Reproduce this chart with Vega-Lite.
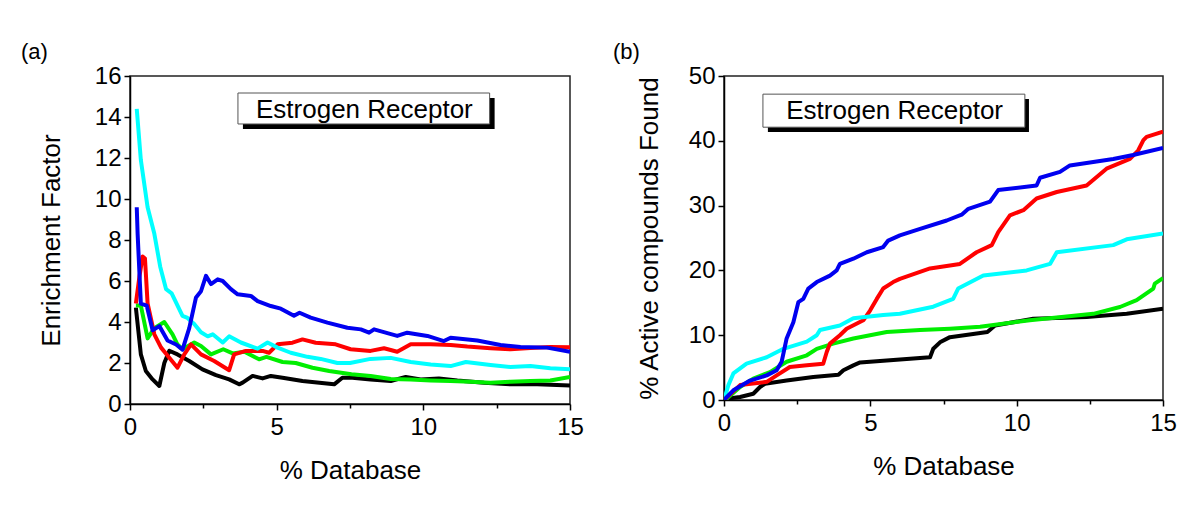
{
  "$schema": "https://vega.github.io/schema/vega-lite/v6.json",
  "padding": {"left": 20, "top": 40, "right": 5, "bottom": 5},
  "background": "white",
  "config": {
    "font": "Liberation Sans",
    "view": {"stroke": "#222222", "strokeWidth": 1.5},
    "axis": {
      "grid": false,
      "domainColor": "#000000",
      "domainWidth": 1.5,
      "tickColor": "#000000",
      "tickWidth": 1.5,
      "labelFont": "Liberation Sans",
      "labelFontSize": 24,
      "labelColor": "#000000",
      "titleFont": "Liberation Sans",
      "titleFontSize": 26,
      "titleFontWeight": "normal",
      "titleColor": "#000000",
      "labelFlush": false,
      "labelOverlap": false
    },
    "title": {"font": "Liberation Sans", "fontSize": 22, "fontWeight": "normal", "color": "#000000", "anchor": "start", "frame": "group"}
  },
  "datasets": {
    "ef": [
      {"pct": 0.2, "value": 4.7, "series": "black"},
      {"pct": 0.37, "value": 2.42, "series": "black"},
      {"pct": 0.54, "value": 1.61, "series": "black"},
      {"pct": 0.77, "value": 1.2, "series": "black"},
      {"pct": 1.0, "value": 0.88, "series": "black"},
      {"pct": 1.17, "value": 2.0, "series": "black"},
      {"pct": 1.34, "value": 2.6, "series": "black"},
      {"pct": 1.62, "value": 2.42, "series": "black"},
      {"pct": 2.02, "value": 2.1, "series": "black"},
      {"pct": 2.47, "value": 1.69, "series": "black"},
      {"pct": 2.93, "value": 1.41, "series": "black"},
      {"pct": 3.38, "value": 1.2, "series": "black"},
      {"pct": 3.72, "value": 0.96, "series": "black"},
      {"pct": 3.84, "value": 1.04, "series": "black"},
      {"pct": 4.18, "value": 1.37, "series": "black"},
      {"pct": 4.52, "value": 1.25, "series": "black"},
      {"pct": 4.8, "value": 1.37, "series": "black"},
      {"pct": 5.2, "value": 1.28, "series": "black"},
      {"pct": 5.88, "value": 1.12, "series": "black"},
      {"pct": 6.79, "value": 0.99, "series": "black"},
      {"pct": 6.96, "value": 0.96, "series": "black"},
      {"pct": 7.24, "value": 1.28, "series": "black"},
      {"pct": 7.58, "value": 1.28, "series": "black"},
      {"pct": 8.2, "value": 1.2, "series": "black"},
      {"pct": 8.89, "value": 1.12, "series": "black"},
      {"pct": 9.4, "value": 1.32, "series": "black"},
      {"pct": 9.91, "value": 1.2, "series": "black"},
      {"pct": 10.53, "value": 1.25, "series": "black"},
      {"pct": 11.16, "value": 1.15, "series": "black"},
      {"pct": 12.07, "value": 1.04, "series": "black"},
      {"pct": 12.97, "value": 0.96, "series": "black"},
      {"pct": 13.88, "value": 0.96, "series": "black"},
      {"pct": 15.0, "value": 0.9, "series": "black"},

      {"pct": 0.2, "value": 4.8, "series": "green"},
      {"pct": 0.37, "value": 4.8, "series": "green"},
      {"pct": 0.6, "value": 3.2, "series": "green"},
      {"pct": 0.83, "value": 3.7, "series": "green"},
      {"pct": 1.17, "value": 4.0, "series": "green"},
      {"pct": 1.45, "value": 3.4, "series": "green"},
      {"pct": 1.62, "value": 2.9, "series": "green"},
      {"pct": 1.79, "value": 2.67, "series": "green"},
      {"pct": 2.19, "value": 3.0, "series": "green"},
      {"pct": 2.42, "value": 2.83, "series": "green"},
      {"pct": 2.76, "value": 2.42, "series": "green"},
      {"pct": 3.18, "value": 2.67, "series": "green"},
      {"pct": 3.5, "value": 2.47, "series": "green"},
      {"pct": 3.9, "value": 2.55, "series": "green"},
      {"pct": 4.4, "value": 2.18, "series": "green"},
      {"pct": 4.65, "value": 2.3, "series": "green"},
      {"pct": 5.2, "value": 2.05, "series": "green"},
      {"pct": 5.65, "value": 2.0, "series": "green"},
      {"pct": 6.22, "value": 1.77, "series": "green"},
      {"pct": 6.79, "value": 1.61, "series": "green"},
      {"pct": 7.55, "value": 1.45, "series": "green"},
      {"pct": 8.2, "value": 1.37, "series": "green"},
      {"pct": 8.89, "value": 1.22, "series": "green"},
      {"pct": 9.57, "value": 1.2, "series": "green"},
      {"pct": 10.25, "value": 1.15, "series": "green"},
      {"pct": 10.93, "value": 1.12, "series": "green"},
      {"pct": 11.61, "value": 1.09, "series": "green"},
      {"pct": 12.29, "value": 1.04, "series": "green"},
      {"pct": 12.97, "value": 1.09, "series": "green"},
      {"pct": 13.65, "value": 1.12, "series": "green"},
      {"pct": 14.33, "value": 1.15, "series": "green"},
      {"pct": 15.0, "value": 1.32, "series": "green"},

      {"pct": 0.2, "value": 4.9, "series": "red"},
      {"pct": 0.32, "value": 6.2, "series": "red"},
      {"pct": 0.43, "value": 7.2, "series": "red"},
      {"pct": 0.51, "value": 7.1, "series": "red"},
      {"pct": 0.6, "value": 4.9, "series": "red"},
      {"pct": 0.83, "value": 3.4, "series": "red"},
      {"pct": 1.06, "value": 2.75, "series": "red"},
      {"pct": 1.34, "value": 2.26, "series": "red"},
      {"pct": 1.62, "value": 1.77, "series": "red"},
      {"pct": 1.85, "value": 2.42, "series": "red"},
      {"pct": 2.08, "value": 2.91, "series": "red"},
      {"pct": 2.42, "value": 2.42, "series": "red"},
      {"pct": 2.87, "value": 2.1, "series": "red"},
      {"pct": 3.38, "value": 1.65, "series": "red"},
      {"pct": 3.55, "value": 2.42, "series": "red"},
      {"pct": 3.95, "value": 2.59, "series": "red"},
      {"pct": 4.52, "value": 2.59, "series": "red"},
      {"pct": 4.74, "value": 2.5, "series": "red"},
      {"pct": 5.03, "value": 2.91, "series": "red"},
      {"pct": 5.54, "value": 2.99, "series": "red"},
      {"pct": 5.88, "value": 3.15, "series": "red"},
      {"pct": 6.33, "value": 2.99, "series": "red"},
      {"pct": 7.01, "value": 2.91, "series": "red"},
      {"pct": 7.52, "value": 2.67, "series": "red"},
      {"pct": 8.2, "value": 2.59, "series": "red"},
      {"pct": 8.66, "value": 2.72, "series": "red"},
      {"pct": 9.11, "value": 2.55, "series": "red"},
      {"pct": 9.57, "value": 2.91, "series": "red"},
      {"pct": 10.25, "value": 2.91, "series": "red"},
      {"pct": 10.93, "value": 2.88, "series": "red"},
      {"pct": 11.5, "value": 2.8, "series": "red"},
      {"pct": 12.29, "value": 2.72, "series": "red"},
      {"pct": 12.97, "value": 2.67, "series": "red"},
      {"pct": 13.65, "value": 2.73, "series": "red"},
      {"pct": 14.33, "value": 2.78, "series": "red"},
      {"pct": 15.0, "value": 2.77, "series": "red"},

      {"pct": 0.23, "value": 14.4, "series": "cyan"},
      {"pct": 0.37, "value": 11.9, "series": "cyan"},
      {"pct": 0.6, "value": 9.6, "series": "cyan"},
      {"pct": 0.83, "value": 8.3, "series": "cyan"},
      {"pct": 1.03, "value": 6.7, "series": "cyan"},
      {"pct": 1.23, "value": 5.6, "series": "cyan"},
      {"pct": 1.42, "value": 5.4, "series": "cyan"},
      {"pct": 1.79, "value": 4.3, "series": "cyan"},
      {"pct": 1.96, "value": 4.2, "series": "cyan"},
      {"pct": 2.19, "value": 3.9, "series": "cyan"},
      {"pct": 2.42, "value": 3.5, "series": "cyan"},
      {"pct": 2.65, "value": 3.3, "series": "cyan"},
      {"pct": 2.82, "value": 3.4, "series": "cyan"},
      {"pct": 3.16, "value": 3.0, "series": "cyan"},
      {"pct": 3.38, "value": 3.3, "series": "cyan"},
      {"pct": 3.78, "value": 3.0, "series": "cyan"},
      {"pct": 4.35, "value": 2.7, "series": "cyan"},
      {"pct": 4.69, "value": 3.0, "series": "cyan"},
      {"pct": 5.03, "value": 2.75, "series": "cyan"},
      {"pct": 5.48, "value": 2.5, "series": "cyan"},
      {"pct": 6.05, "value": 2.3, "series": "cyan"},
      {"pct": 6.5, "value": 2.2, "series": "cyan"},
      {"pct": 7.07, "value": 2.0, "series": "cyan"},
      {"pct": 7.5, "value": 2.0, "series": "cyan"},
      {"pct": 8.2, "value": 2.2, "series": "cyan"},
      {"pct": 8.89, "value": 2.25, "series": "cyan"},
      {"pct": 9.57, "value": 2.05, "series": "cyan"},
      {"pct": 10.25, "value": 1.93, "series": "cyan"},
      {"pct": 10.93, "value": 1.85, "series": "cyan"},
      {"pct": 11.45, "value": 2.05, "series": "cyan"},
      {"pct": 12.29, "value": 1.9, "series": "cyan"},
      {"pct": 12.97, "value": 1.8, "series": "cyan"},
      {"pct": 13.65, "value": 1.85, "series": "cyan"},
      {"pct": 14.33, "value": 1.74, "series": "cyan"},
      {"pct": 15.0, "value": 1.69, "series": "cyan"},

      {"pct": 0.23, "value": 9.6, "series": "blue"},
      {"pct": 0.26, "value": 8.3, "series": "blue"},
      {"pct": 0.37, "value": 4.9, "series": "blue"},
      {"pct": 0.57, "value": 4.8, "series": "blue"},
      {"pct": 0.77, "value": 3.6, "series": "blue"},
      {"pct": 1.0, "value": 3.8, "series": "blue"},
      {"pct": 1.28, "value": 3.1, "series": "blue"},
      {"pct": 1.57, "value": 2.9, "series": "blue"},
      {"pct": 1.79, "value": 2.65, "series": "blue"},
      {"pct": 2.02, "value": 3.7, "series": "blue"},
      {"pct": 2.25, "value": 5.2, "series": "blue"},
      {"pct": 2.42, "value": 5.5, "series": "blue"},
      {"pct": 2.59, "value": 6.25, "series": "blue"},
      {"pct": 2.76, "value": 5.85, "series": "blue"},
      {"pct": 2.99, "value": 6.08, "series": "blue"},
      {"pct": 3.16, "value": 6.0, "series": "blue"},
      {"pct": 3.44, "value": 5.6, "series": "blue"},
      {"pct": 3.67, "value": 5.35, "series": "blue"},
      {"pct": 4.12, "value": 5.27, "series": "blue"},
      {"pct": 4.35, "value": 5.02, "series": "blue"},
      {"pct": 4.8, "value": 4.78, "series": "blue"},
      {"pct": 5.14, "value": 4.65, "series": "blue"},
      {"pct": 5.59, "value": 4.3, "series": "blue"},
      {"pct": 5.78, "value": 4.45, "series": "blue"},
      {"pct": 6.16, "value": 4.21, "series": "blue"},
      {"pct": 6.73, "value": 3.97, "series": "blue"},
      {"pct": 7.41, "value": 3.72, "series": "blue"},
      {"pct": 7.87, "value": 3.64, "series": "blue"},
      {"pct": 8.15, "value": 3.48, "series": "blue"},
      {"pct": 8.32, "value": 3.64, "series": "blue"},
      {"pct": 9.11, "value": 3.32, "series": "blue"},
      {"pct": 9.45, "value": 3.48, "series": "blue"},
      {"pct": 10.14, "value": 3.32, "series": "blue"},
      {"pct": 10.7, "value": 3.07, "series": "blue"},
      {"pct": 10.93, "value": 3.23, "series": "blue"},
      {"pct": 11.84, "value": 3.1, "series": "blue"},
      {"pct": 12.63, "value": 2.88, "series": "blue"},
      {"pct": 13.31, "value": 2.78, "series": "blue"},
      {"pct": 14.22, "value": 2.75, "series": "blue"},
      {"pct": 15.0, "value": 2.55, "series": "blue"}
    ],
    "found": [
      {"pct": 0, "value": 0, "series": "black"},
      {"pct": 0.09, "value": 0.2, "series": "black"},
      {"pct": 0.55, "value": 0.46, "series": "black"},
      {"pct": 1.0, "value": 0.97, "series": "black"},
      {"pct": 1.23, "value": 2.0, "series": "black"},
      {"pct": 1.4, "value": 2.5, "series": "black"},
      {"pct": 2.14, "value": 3.0, "series": "black"},
      {"pct": 3.05, "value": 3.55, "series": "black"},
      {"pct": 3.91, "value": 3.9, "series": "black"},
      {"pct": 4.08, "value": 4.6, "series": "black"},
      {"pct": 4.42, "value": 5.35, "series": "black"},
      {"pct": 4.65, "value": 5.8, "series": "black"},
      {"pct": 5.56, "value": 6.1, "series": "black"},
      {"pct": 7.04, "value": 6.6, "series": "black"},
      {"pct": 7.15, "value": 7.9, "series": "black"},
      {"pct": 7.38, "value": 8.9, "series": "black"},
      {"pct": 7.72, "value": 9.7, "series": "black"},
      {"pct": 9.0, "value": 10.5, "series": "black"},
      {"pct": 9.26, "value": 11.5, "series": "black"},
      {"pct": 10.57, "value": 12.55, "series": "black"},
      {"pct": 12.39, "value": 12.8, "series": "black"},
      {"pct": 13.76, "value": 13.3, "series": "black"},
      {"pct": 15.0, "value": 14.1, "series": "black"},

      {"pct": 0, "value": 0, "series": "green"},
      {"pct": 0.09, "value": 0.2, "series": "green"},
      {"pct": 0.55, "value": 2.0, "series": "green"},
      {"pct": 1.0, "value": 3.3, "series": "green"},
      {"pct": 1.57, "value": 4.3, "series": "green"},
      {"pct": 2.14, "value": 5.9, "series": "green"},
      {"pct": 2.83, "value": 6.9, "series": "green"},
      {"pct": 3.17, "value": 7.9, "series": "green"},
      {"pct": 3.73, "value": 8.7, "series": "green"},
      {"pct": 4.42, "value": 9.5, "series": "green"},
      {"pct": 4.99, "value": 10.0, "series": "green"},
      {"pct": 5.56, "value": 10.5, "series": "green"},
      {"pct": 6.7, "value": 10.8, "series": "green"},
      {"pct": 7.72, "value": 11.0, "series": "green"},
      {"pct": 8.75, "value": 11.3, "series": "green"},
      {"pct": 10.45, "value": 12.3, "series": "green"},
      {"pct": 12.62, "value": 13.3, "series": "green"},
      {"pct": 13.53, "value": 14.35, "series": "green"},
      {"pct": 14.1, "value": 15.4, "series": "green"},
      {"pct": 14.67, "value": 17.2, "series": "green"},
      {"pct": 14.72, "value": 17.95, "series": "green"},
      {"pct": 15.0, "value": 18.8, "series": "green"},

      {"pct": 0, "value": 0, "series": "red"},
      {"pct": 0.55, "value": 2.3, "series": "red"},
      {"pct": 1.46, "value": 2.8, "series": "red"},
      {"pct": 1.8, "value": 3.8, "series": "red"},
      {"pct": 2.25, "value": 5.1, "series": "red"},
      {"pct": 2.83, "value": 5.35, "series": "red"},
      {"pct": 3.39, "value": 5.6, "series": "red"},
      {"pct": 3.51, "value": 7.4, "series": "red"},
      {"pct": 3.62, "value": 8.7, "series": "red"},
      {"pct": 3.96, "value": 10.0, "series": "red"},
      {"pct": 4.19, "value": 11.0, "series": "red"},
      {"pct": 4.76, "value": 12.3, "series": "red"},
      {"pct": 4.99, "value": 13.8, "series": "red"},
      {"pct": 5.22, "value": 15.6, "series": "red"},
      {"pct": 5.44, "value": 17.2, "series": "red"},
      {"pct": 5.78, "value": 18.2, "series": "red"},
      {"pct": 6.01, "value": 18.7, "series": "red"},
      {"pct": 7.04, "value": 20.3, "series": "red"},
      {"pct": 8.06, "value": 21.0, "series": "red"},
      {"pct": 8.63, "value": 22.8, "series": "red"},
      {"pct": 9.15, "value": 23.9, "series": "red"},
      {"pct": 9.37, "value": 25.9, "series": "red"},
      {"pct": 9.77, "value": 28.5, "series": "red"},
      {"pct": 10.23, "value": 29.3, "series": "red"},
      {"pct": 10.68, "value": 31.1, "series": "red"},
      {"pct": 11.37, "value": 32.1, "series": "red"},
      {"pct": 12.39, "value": 33.1, "series": "red"},
      {"pct": 13.07, "value": 35.7, "series": "red"},
      {"pct": 13.87, "value": 37.2, "series": "red"},
      {"pct": 14.15, "value": 38.5, "series": "red"},
      {"pct": 14.33, "value": 40.1, "series": "red"},
      {"pct": 14.44, "value": 40.6, "series": "red"},
      {"pct": 15.0, "value": 41.4, "series": "red"},

      {"pct": 0, "value": 0, "series": "cyan"},
      {"pct": 0.15, "value": 2.3, "series": "cyan"},
      {"pct": 0.32, "value": 4.1, "series": "cyan"},
      {"pct": 0.77, "value": 5.6, "series": "cyan"},
      {"pct": 1.46, "value": 6.6, "series": "cyan"},
      {"pct": 2.03, "value": 7.9, "series": "cyan"},
      {"pct": 2.83, "value": 9.0, "series": "cyan"},
      {"pct": 3.17, "value": 10.0, "series": "cyan"},
      {"pct": 3.28, "value": 10.8, "series": "cyan"},
      {"pct": 3.96, "value": 11.5, "series": "cyan"},
      {"pct": 4.42, "value": 12.6, "series": "cyan"},
      {"pct": 5.44, "value": 13.1, "series": "cyan"},
      {"pct": 6.01, "value": 13.3, "series": "cyan"},
      {"pct": 7.15, "value": 14.4, "series": "cyan"},
      {"pct": 7.83, "value": 15.6, "series": "cyan"},
      {"pct": 8.0, "value": 17.2, "series": "cyan"},
      {"pct": 8.86, "value": 19.2, "series": "cyan"},
      {"pct": 10.34, "value": 20.0, "series": "cyan"},
      {"pct": 11.14, "value": 21.0, "series": "cyan"},
      {"pct": 11.37, "value": 22.8, "series": "cyan"},
      {"pct": 13.3, "value": 23.9, "series": "cyan"},
      {"pct": 13.76, "value": 24.8, "series": "cyan"},
      {"pct": 15.0, "value": 25.7, "series": "cyan"},

      {"pct": 0, "value": 0, "series": "blue"},
      {"pct": 0.32, "value": 1.5, "series": "blue"},
      {"pct": 0.89, "value": 3.0, "series": "blue"},
      {"pct": 1.46, "value": 3.8, "series": "blue"},
      {"pct": 1.8, "value": 4.6, "series": "blue"},
      {"pct": 1.97, "value": 5.9, "series": "blue"},
      {"pct": 2.14, "value": 9.5, "series": "blue"},
      {"pct": 2.37, "value": 12.0, "series": "blue"},
      {"pct": 2.54, "value": 15.1, "series": "blue"},
      {"pct": 2.71, "value": 15.6, "series": "blue"},
      {"pct": 2.88, "value": 17.2, "series": "blue"},
      {"pct": 3.17, "value": 18.2, "series": "blue"},
      {"pct": 3.62, "value": 19.2, "series": "blue"},
      {"pct": 3.85, "value": 20.0, "series": "blue"},
      {"pct": 3.96, "value": 21.0, "series": "blue"},
      {"pct": 4.42, "value": 21.8, "series": "blue"},
      {"pct": 4.88, "value": 22.8, "series": "blue"},
      {"pct": 5.44, "value": 23.6, "series": "blue"},
      {"pct": 5.61, "value": 24.6, "series": "blue"},
      {"pct": 6.01, "value": 25.4, "series": "blue"},
      {"pct": 6.7, "value": 26.4, "series": "blue"},
      {"pct": 7.61, "value": 27.7, "series": "blue"},
      {"pct": 8.12, "value": 28.6, "series": "blue"},
      {"pct": 8.35, "value": 29.5, "series": "blue"},
      {"pct": 9.09, "value": 30.6, "series": "blue"},
      {"pct": 9.37, "value": 32.4, "series": "blue"},
      {"pct": 10.68, "value": 33.1, "series": "blue"},
      {"pct": 10.8, "value": 34.3, "series": "blue"},
      {"pct": 11.48, "value": 35.2, "series": "blue"},
      {"pct": 11.82, "value": 36.2, "series": "blue"},
      {"pct": 13.3, "value": 37.2, "series": "blue"},
      {"pct": 13.98, "value": 37.8, "series": "blue"},
      {"pct": 15.0, "value": 38.9, "series": "blue"}
    ]
  },
  "hconcat": [
    {
      "width": 440,
      "height": 328,
      "title": {"text": "(a)", "dx": -109, "offset": 0},
      "layer": [
        {
          "data": {"name": "ef"},
          "mark": {"type": "line", "strokeWidth": 4, "strokeJoin": "round", "clip": true},
          "encoding": {
            "x": {"field": "pct", "type": "quantitative",
                  "scale": {"domain": [0, 15], "nice": false},
                  "axis": {"title": "% Database", "values": [0, 2.5, 5, 7.5, 10, 12.5, 15],
                           "labelExpr": "datum.value % 5 === 0 ? datum.label : ''",
                           "tickSize": {"condition": {"test": "datum.value % 5 === 0", "value": 6}, "value": 4},
                           "labelPadding": 5, "titlePadding": 18}},
            "y": {"field": "value", "type": "quantitative",
                  "scale": {"domain": [0, 16], "nice": false},
                  "axis": {"title": "Enrichment Factor", "values": [0,1,2,3,4,5,6,7,8,9,10,11,12,13,14,15,16],
                           "labelExpr": "datum.value % 2 === 0 ? datum.label : ''",
                           "tickSize": {"condition": {"test": "datum.value % 2 === 0", "value": 6}, "value": 4},
                           "labelPadding": 3, "titlePadding": 30}},
            "color": {"field": "series", "type": "nominal", "legend": null,
                      "scale": {"domain": ["black", "green", "red", "cyan", "blue"],
                                "range": ["#000000", "#00ee00", "#ff0000", "#00ffff", "#0000f0"]}}
          }
        },
        {
          "data": {"values": [{"label": "Estrogen Receptor"}]},
          "mark": {"type": "rect", "fill": "#000000"},
          "encoding": {
            "x": {"datum": 3.85, "type": "quantitative"}, "x2": {"datum": 12.43},
            "y": {"datum": 13.41, "type": "quantitative"}, "y2": {"datum": 14.93}
          }
        },
        {
          "data": {"values": [{"label": "Estrogen Receptor"}]},
          "mark": {"type": "rect", "fill": "#ffffff", "stroke": "#555555", "strokeWidth": 1},
          "encoding": {
            "x": {"datum": 3.68, "type": "quantitative"}, "x2": {"datum": 12.26},
            "y": {"datum": 13.66, "type": "quantitative"}, "y2": {"datum": 15.17}
          }
        },
        {
          "data": {"values": [{"label": "Estrogen Receptor"}]},
          "mark": {"type": "text", "fontSize": 26, "font": "Liberation Sans", "align": "center", "baseline": "alphabetic", "color": "#000000"},
          "encoding": {
            "x": {"datum": 7.99, "type": "quantitative"},
            "y": {"datum": 13.97, "type": "quantitative"},
            "text": {"field": "label"}
          }
        }
      ]
    },
    {
      "width": 439,
      "height": 324,
      "title": {"text": "(b)", "dx": -111, "offset": 0},
      "layer": [
        {
          "data": {"name": "found"},
          "mark": {"type": "line", "strokeWidth": 4, "strokeJoin": "round", "clip": true},
          "encoding": {
            "x": {"field": "pct", "type": "quantitative",
                  "scale": {"domain": [0, 15], "nice": false},
                  "axis": {"title": "% Database", "values": [0, 2.5, 5, 7.5, 10, 12.5, 15],
                           "labelExpr": "datum.value % 5 === 0 ? datum.label : ''",
                           "tickSize": {"condition": {"test": "datum.value % 5 === 0", "value": 6}, "value": 4},
                           "labelPadding": 5, "titlePadding": 18}},
            "y": {"field": "value", "type": "quantitative",
                  "scale": {"domain": [0, 50], "nice": false},
                  "axis": {"title": "% Active compounds Found", "values": [0,5,10,15,20,25,30,35,40,45,50],
                           "labelExpr": "datum.value % 10 === 0 ? datum.label : ''",
                           "tickSize": {"condition": {"test": "datum.value % 10 === 0", "value": 6}, "value": 4},
                           "labelPadding": 3, "titlePadding": 26}},
            "color": {"field": "series", "type": "nominal", "legend": null,
                      "scale": {"domain": ["black", "green", "red", "cyan", "blue"],
                                "range": ["#000000", "#00ee00", "#ff0000", "#00ffff", "#0000f0"]}}
          }
        },
        {
          "data": {"values": [{"label": "Estrogen Receptor"}]},
          "mark": {"type": "rect", "fill": "#000000"},
          "encoding": {
            "x": {"datum": 1.5, "type": "quantitative"}, "x2": {"datum": 10.42},
            "y": {"datum": 41.36, "type": "quantitative"}, "y2": {"datum": 46.45}
          }
        },
        {
          "data": {"values": [{"label": "Estrogen Receptor"}]},
          "mark": {"type": "rect", "fill": "#ffffff", "stroke": "#555555", "strokeWidth": 1},
          "encoding": {
            "x": {"datum": 1.33, "type": "quantitative"}, "x2": {"datum": 10.28},
            "y": {"datum": 42.1, "type": "quantitative"}, "y2": {"datum": 47.2}
          }
        },
        {
          "data": {"values": [{"label": "Estrogen Receptor"}]},
          "mark": {"type": "text", "fontSize": 26, "font": "Liberation Sans", "align": "center", "baseline": "alphabetic", "color": "#000000"},
          "encoding": {
            "x": {"datum": 5.83, "type": "quantitative"},
            "y": {"datum": 43.3, "type": "quantitative"},
            "text": {"field": "label"}
          }
        }
      ]
    }
  ],
  "spacing": 27
}
